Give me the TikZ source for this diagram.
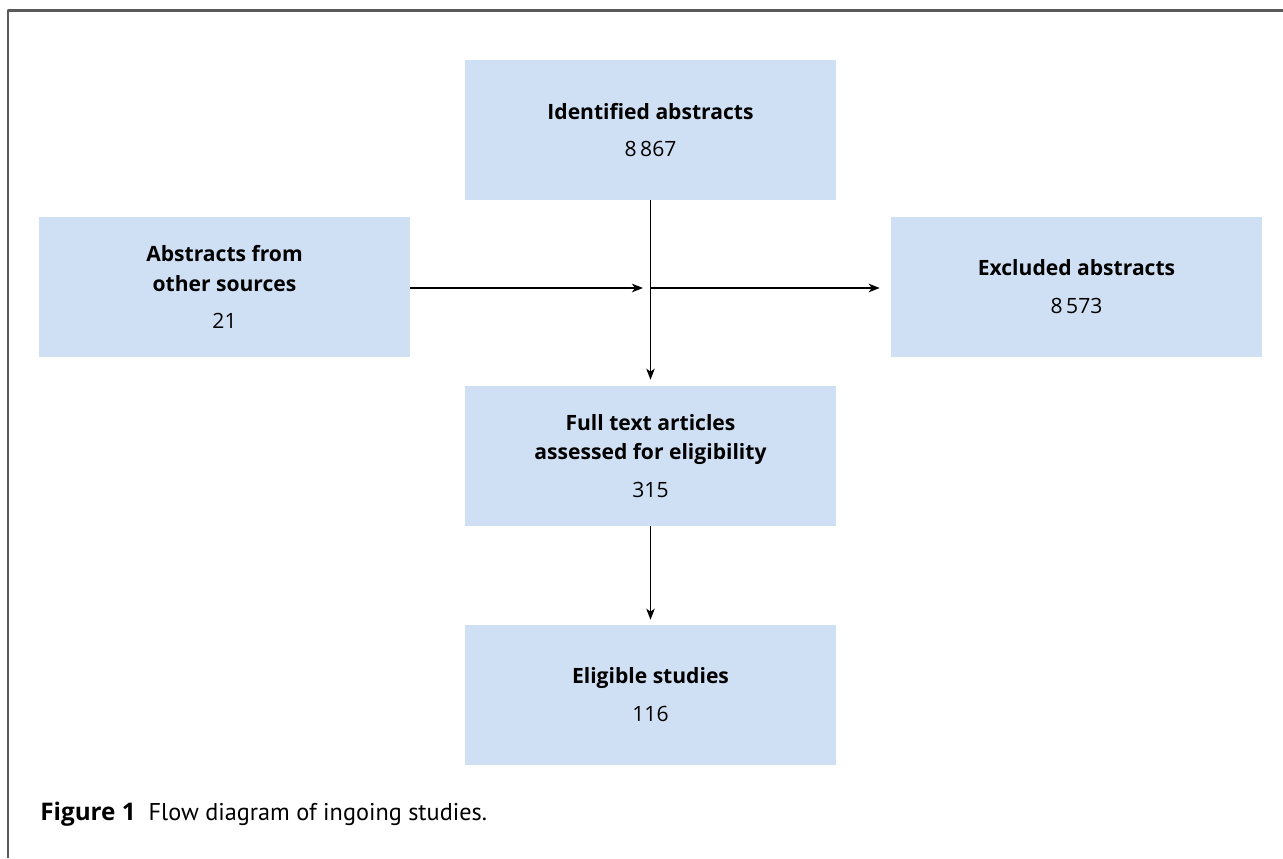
\documentclass[tikz,border=0pt]{standalone}
\usepackage{fontspec}
\setmainfont{Open Sans}
\newfontfamily\captionfont{PT Sans}
\usetikzlibrary{arrows.meta}
\definecolor{boxblue}{RGB}{208,224,244}
\definecolor{framegray}{RGB}{90,90,90}
\begin{document}
\begin{tikzpicture}[x=0.02cm, y=-0.02cm, line join=round, >={Stealth[length=0.22cm,width=0.17cm,inset=0.06cm]},
	flowbox/.style={fill=boxblue, draw=none, minimum width=7.42cm, minimum height=2.8cm, inner sep=0pt, align=center, font=\fontsize{12}{17}\selectfont},
	flowline/.style={line width=0.75pt, black}]
				\useasboundingbox (0,0) rectangle (1283,858);
				\draw[framegray, line width=1.2pt] (8,858)--(8,10.5)--(1283,10.5);%khung
				\node[flowbox] (ident) at (650.5,130) {\textbf{Identified abstracts}\\[0.16cm]8\,867};
				\node[flowbox] (other) at (224.5,287) {\textbf{Abstracts from}\\\textbf{other sources}\\[0.16cm]21};
				\node[flowbox] (excl) at (1076.5,287) {\textbf{Excluded abstracts}\\[0.16cm]8\,573};
				\node[flowbox] (full) at (650.5,456) {\textbf{Full text articles}\\\textbf{assessed for eligibility}\\[0.16cm]315};
				\node[flowbox] (elig) at (650.5,695) {\textbf{Eligible studies}\\[0.16cm]116};
				\coordinate (junc) at (651,288);%điểm nối
				\draw[flowline,->,shorten >=0.12cm] (ident.south)--(full.north);
				\draw[flowline,->,shorten >=0.16cm] (other.east|-junc)--(junc);
				\draw[flowline,->,shorten >=0.22cm] (junc)--(excl.west|-junc);
				\draw[flowline,->,shorten >=0.1cm] (full.south)--(elig.north);
				\path (40,820) node[anchor=base west, inner sep=0pt, font=\fontsize{13.8}{16}\selectfont]{\textbf{Figure 1}\hspace{0.26cm}{\captionfont Flow diagram of ingoing studies.}};%chú thích
\end{tikzpicture}
\end{document}
